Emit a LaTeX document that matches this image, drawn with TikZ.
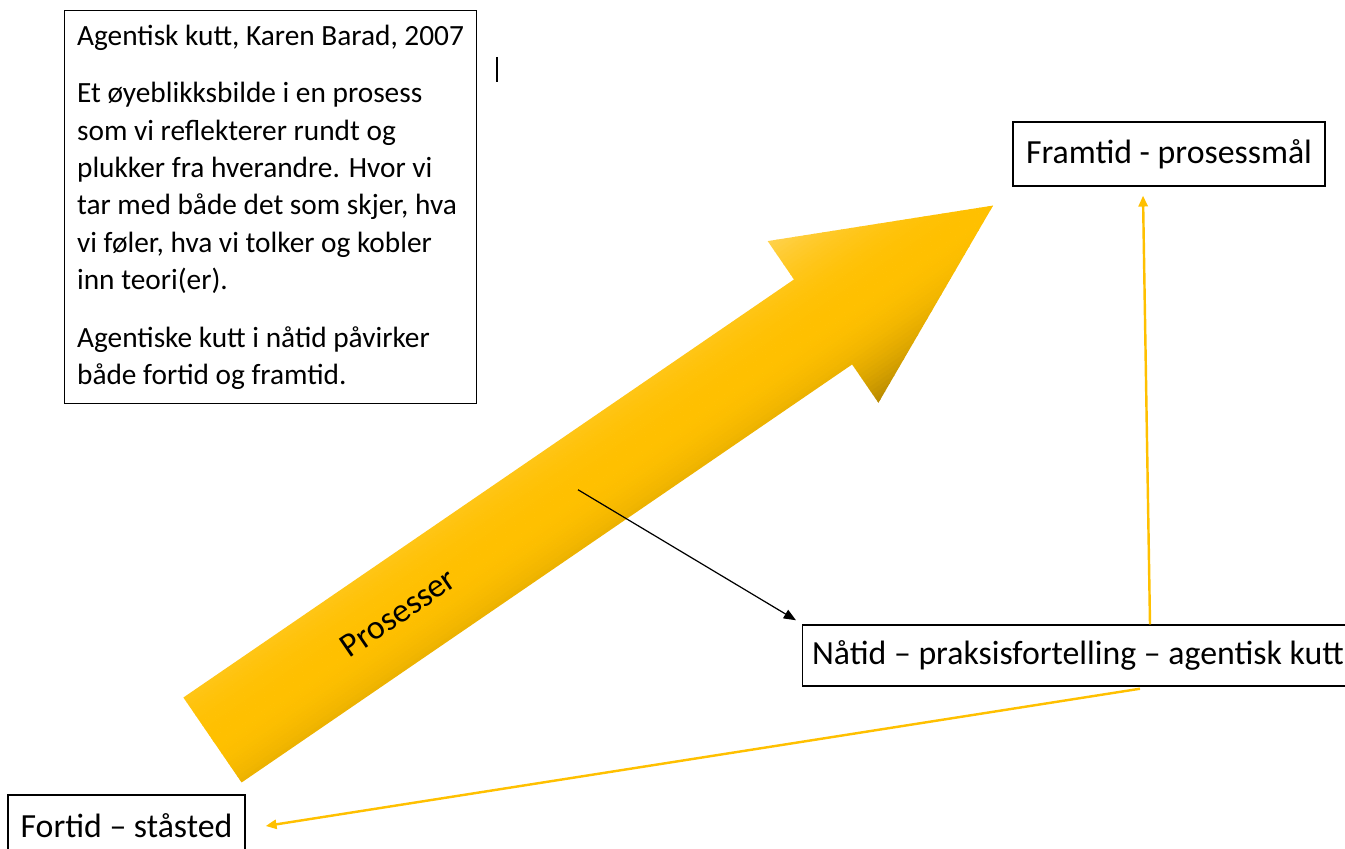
\documentclass[tikz,border=0pt]{standalone}
\usepackage{fontspec}
\setmainfont{Carlito}
\usepackage{tikz}
\usetikzlibrary{calc,arrows.meta}
\definecolor{gold}{HTML}{FFC000}
\definecolor{goldlight}{HTML}{FFD24D}
\definecolor{golddark}{HTML}{B38600}
\definecolor{ink}{HTML}{000000}
\tikzset{
  timebox/.style={draw=ink, line width=0.5pt, fill=white, font=\fontsize{12.5}{15}\selectfont, inner sep=0pt},
  gold link/.style={draw=gold, line width=0.9pt, -{Triangle[length=4pt,width=3.4pt]}},
  ink link/.style={draw=ink, line width=0.45pt, -{Triangle[length=4.5pt,width=3.6pt]}},
}

\begin{document}
\begin{tikzpicture}[x=0.013cm, y=-0.013cm]
\useasboundingbox (0,0) rectangle (1345,849);
\begin{scope}[shift={(212.5,740)}, rotate=34.4]
  \begin{scope}
    \clip (0,-51.5) -- (740,-51.5) -- (740,-98) -- (946,0) -- (740,98) -- (740,51.5) -- (0,51.5) -- cycle;
    \foreach \t in {-98,-94,...,-2}{
      \pgfmathsetmacro\amt{\t*\t/98}
      \fill[goldlight!\amt!gold] (0,\t) rectangle (946,\t+4.5);
    }
    \foreach \t in {0,4,...,96}{
      \pgfmathsetmacro\amt{\t*\t/98}
      \fill[golddark!\amt!gold] (0,\t) rectangle (946,\t+4.5);
    }
  \end{scope}
  \node[transform shape, font=\fontsize{12.5}{15}\selectfont] (proc) at (225,0) {Prosesser};
  \coordinate (pick) at (443,0);
\end{scope}
\node[timebox, anchor=north west, minimum height=145.4pt, align=left,
  font=\fontsize{10.85}{13.8}\selectfont, inner xsep=4.6pt] (note) at (64,10)
  {Agentisk kutt, Karen Barad, 2007\\[7.5pt]
   Et øyeblikksbilde i en prosess\\
   som vi reflekterer rundt og\\
   plukker fra hverandre. Hvor vi\\
   tar med både det som skjer, hva\\
   vi føler, hva vi tolker og kobler\\
   inn teori(er).\\[7.5pt]
   Agentiske kutt i nåtid påvirker\\
   både fortid og framtid.};
\draw[ink, line width=0.6pt] (497,57) -- (497,82);
\node[timebox, minimum width=115.4pt, minimum height=23.7pt] (future) at (1169,154) {Framtid - prosessmål};
\node[timebox, anchor=west, minimum height=22.6pt, inner xsep=3.5pt] (now) at (802,655.5) {Nåtid – praksisfortelling – agentisk kutt};
\node[timebox, minimum width=87.7pt, minimum height=22.9pt] (past) at (126.5,826) {Fortid – ståsted};
\draw[ink link] (pick) -- ($(now.north west)+(-6,-4)$);
\draw[gold link] ($(now.north west)+(348,0)$) -- ($(future.south)+(-26,9)$);
\draw[gold link] ($(now.south west)+(338,2)$) -- ($(past.east)+(20,0)$);
\end{tikzpicture}
\end{document}
